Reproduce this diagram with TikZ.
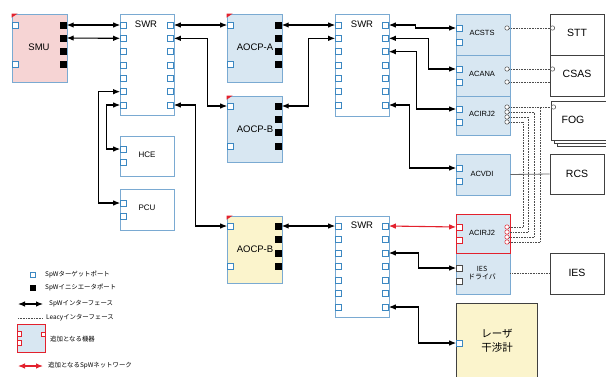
\documentclass[tikz,border=0pt]{standalone}
\usepackage{fontspec}
\setmainfont{Liberation Sans}
\newfontfamily\jp{Noto Sans CJK JP}
\usetikzlibrary{arrows.meta,fit}
\definecolor{bblue}{HTML}{7AAAD2}
\definecolor{pblue}{HTML}{3C88C2}
\definecolor{lblue}{HTML}{D8E7F2}
\definecolor{pinkf}{HTML}{F6D4D4}
\definecolor{yelf}{HTML}{FBF4CC}
\definecolor{redc}{HTML}{E3212D}
\tikzset{
 box/.style={draw=bblue, line width=0.8pt, inner sep=0pt},
 obox/.style={draw=black!75, line width=0.7pt, fill=white, inner sep=0pt},
 port/.style={draw=pblue, fill=white, line width=0.6pt, rectangle, minimum size=6pt, inner sep=0pt},
 iport/.style={draw=black, fill=black, rectangle, minimum size=6pt, inner sep=0pt},
 rport/.style={port, draw=redc},
 dport/.style={port, draw=black!70},
 lcirc/.style={circle, draw=black!70, fill=white, line width=0.5pt, minimum size=4.4pt, inner sep=0pt},
 rcirc/.style={lcirc, draw=redc},
 spw/.style={line width=1.1pt, {Latex[length=7pt,width=5.5pt]}-{Latex[length=7pt,width=5.5pt]}},
 rspw/.style={spw, draw=redc},
 legacy/.style={densely dotted, line width=0.6pt, black!70},
 lbl/.style={font=\fontsize{9.5}{10}\selectfont, inner sep=0pt},
 slbl/.style={font=\fontsize{7.5}{8.5}\selectfont, inner sep=0pt},
 blbl/.style={font=\fontsize{10.5}{12}\selectfont, inner sep=0pt},
 legtext/.style={font=\jp\fontsize{6.4}{7}\selectfont, anchor=west, inner sep=0pt},
 redcorner/.style={fill=redc}
}
\begin{document}
\begin{tikzpicture}[x=1pt,y=-1pt]
\path[use as bounding box] (0,0) rectangle (606,376);
\clip (0,0) rectangle (606,376);
% boxes
\node[box, fill=pinkf, fit={(12,14)(67,82)}] (smu) {};
\node[box, fill=white, fit={(120,14)(174,115)}] (swra) {};
\node[box, fill=lblue, fit={(227,14)(282,82)}] (aocpa) {};
\node[box, fill=lblue, fit={(227,96)(282,162)}] (aocpb) {};
\node[box, fill=white, fit={(335,14)(389,116)}] (swrb) {};
\node[box, fill=yelf, fit={(227,216)(282,283)}] (aocpc) {};
\node[box, fill=white, fit={(335,216)(389,317)}] (swrc) {};
\node[box, fill=white, fit={(120,136)(174,176)}] (hce) {};
\node[box, fill=white, fit={(120,189)(174,230)}] (pcu) {};
\node[box, fill=lblue, fit={(456,14)(510,55)}] (acsts) {};
\node[box, fill=lblue, fit={(456,55)(510,96)}] (acana) {};
\node[box, fill=lblue, fit={(456,96)(510,135)}] (acirja) {};
\node[box, fill=lblue, fit={(456,154)(510,195)}] (acvdi) {};
\node[box, fill=lblue, fit={(456,253)(510,294)}] (iesd) {};
\node[box, draw=redc, fill=lblue, fit={(456,214)(510,253)}] (acirjb) {};
\node[obox, fill=yelf, fit={(456,303)(537,380)}] (laser) {};
\node[obox, fit={(550,14)(604,55)}] (stt) {};
\node[obox, fit={(550,55)(604,96)}] (csas) {};
\node[obox, fit={(557,107)(612,146)}] (fogc3) {};
\node[obox, fit={(554,104)(609,143)}] (fogc2) {};
\node[obox, fit={(551,101)(606,140)}] (fog) {};
\node[obox, fit={(550,154)(604,194)}] (rcs) {};
\node[obox, fit={(550,253)(604,294)}] (ies) {};
% red corners
\foreach \b in {smu,aocpa,aocpb,aocpc}
  \fill[redcorner] (\b.north west) -- ++(6,0) -- ++(-6,4) -- cycle;
% ports
\node[port] (smuL1) at (15.5,25) {};
\node[port] (smuL2) at (15.5,64) {};
\foreach \i/\y in {1/25,2/38,3/51,4/64} \node[iport] (smuR\i) at (63.5,\y) {};
\foreach \i in {1,...,7} {
  \pgfmathsetmacro\yy{25+13.333*(\i-1)}
  \node[port] (swraL\i) at (123.5,\yy) {};
  \node[port] (swraR\i) at (170.5,\yy) {};
  \node[port] (swrbL\i) at (338.5,\yy) {};
  \node[port] (swrbR\i) at (385.5,\yy) {};
  \pgfmathsetmacro\yz{226+13.5*(\i-1)}
  \node[port] (swrcL\i) at (338.5,\yz) {};
  \node[port] (swrcR\i) at (385.5,\yz) {};
}
\node[port] (aocpaL1) at (230.5,25) {};
\node[port] (aocpaL2) at (230.5,64) {};
\foreach \i/\y in {1/25,2/38,3/51,4/64} \node[iport] (aocpaR\i) at (278.5,\y) {};
\node[port] (aocpbL1) at (230.5,106) {};
\node[port] (aocpbL2) at (230.5,146) {};
\foreach \i/\y in {1/106,2/119,3/132,4/146} \node[iport] (aocpbR\i) at (278.5,\y) {};
\node[port] (aocpcL1) at (230.5,226) {};
\node[port] (aocpcL2) at (230.5,266) {};
\foreach \i/\y in {1/226,2/239.5,3/253,4/266} \node[iport] (aocpcR\i) at (278.5,\y) {};
\node[port] (hceL1) at (123.5,149) {};
\node[port] (hceL2) at (123.5,162) {};
\node[port] (pcuL1) at (123.5,203) {};
\node[port] (pcuL2) at (123.5,216) {};
\node[port] (acstsL1) at (459.5,28) {};
\node[port] (acstsL2) at (459.5,42) {};
\node[port] (acanaL1) at (459.5,69) {};
\node[port] (acanaL2) at (459.5,82) {};
\node[port] (acirjaL1) at (459.5,109) {};
\node[port] (acirjaL2) at (459.5,122) {};
\node[port] (acvdiL1) at (459.5,168) {};
\node[port] (acvdiL2) at (459.5,181) {};
\node[rport] (acirjbL1) at (459.5,227) {};
\node[rport] (acirjbL2) at (459.5,240) {};
\node[dport] (iesdL1) at (459.5,268) {};
\node[dport] (iesdL2) at (459.5,281) {};
\node[port] (laserL1) at (459.5,343) {};
% legacy circles
\node[lcirc] (acstsC) at (507,28) {};
\node[lcirc] (acanaC1) at (507,69) {};
\node[lcirc] (acanaC2) at (507,82) {};
\foreach \i/\y in {1/107,2/112,3/117,4/122} \node[lcirc] (acirjaC\i) at (507,\y) {};
\foreach \i/\y in {1/227,2/232,3/237,4/242} \node[rcirc] (acirjbC\i) at (507,\y) {};
\node[lcirc] (sttC) at (552.5,28) {};
\node[lcirc] (csasC) at (552.5,69) {};
\node[lcirc] (fogC) at (553.5,107) {};
% SpW connectors
\draw[spw] (smuR1.east) -- (swraL1.west);
\draw[spw] (smuR2.east) -- (swraL2.west);
\draw[spw] (swraR1.east) -- (aocpaL1.west);
\draw[spw] (swraR2.east) -- ++(34,0) |- (aocpbL1.west);
\draw[spw] (swraR7.east) -- ++(22,0) |- (aocpcL1.west);
\draw[spw] (swraL6.west) -- ++(-22,0) |- (pcuL1.west);
\draw[spw] (swraL7.west) -- ++(-14,0) |- (hceL1.west);
\draw[spw] (aocpaR1.east) -- (swrbL1.west);
\draw[spw] (aocpbR1.east) -- ++(27,0) |- (swrbL2.west);
\draw[spw] (swrbR1.east) -- ++(27,0) |- (acstsL1.west);
\draw[spw] (swrbR2.east) -- ++(40,0) |- (acanaL1.west);
\draw[spw] (swrbR3.east) -- ++(28,0) |- (acirjaL1.west);
\draw[spw] (swrbR7.east) -- ++(21,0) |- (acvdiL1.west);
\draw[spw] (aocpcR1.east) -- (swrcL1.west);
\draw[rspw] (swrcR1.east) -- (acirjbL1.west);
\draw[spw] (swrcR3.east) -- ++(30,0) |- (iesdL1.west);
\draw[spw] (swrcR7.east) -- ++(30,0) |- (laserL1.west);
% legacy connectors
\draw[legacy] (acstsC.east) -- (sttC.west);
\draw[legacy] (acanaC1.east) -- (csasC.west);
\draw[legacy] (acanaC2.east) -- (acanaC2 -| csas.west);
\draw[legacy] (acirjaC1.east) -- (fogC.west);
\draw[legacy] (acirjaC4.east) -- ++(14,0) |- (acirjbC1.east);
\draw[legacy] (acirjaC3.east) -- ++(19,0) |- (acirjbC2.east);
\draw[legacy] (acirjaC2.east) -- ++(25,0) |- (acirjbC3.east);
\draw[legacy] (acirjaC1.east) -- ++(31,0) |- (acirjbC4.east);
\draw[line width=0.8pt, black!60] (acvdi.east) -- (rcs.west);
\draw[legacy] (iesd.east) -- (ies.west);
% labels
\node[lbl] (smuT) at (39,47) {SMU};
\node[lbl] (swraT) at (146,24) {SWR};
\node[lbl] (swrbT) at (362,24) {SWR};
\node[lbl] (swrcT) at (362,225) {SWR};
\node[lbl] (aocpaT) at (255,47) {AOCP-A};
\node[lbl] (aocpbT) at (255,129) {AOCP-B};
\node[lbl] (aocpcT) at (255,249) {AOCP-B};
\node[slbl, font=\fontsize{8}{9}\selectfont] (hceT) at (147,155) {HCE};
\node[slbl, font=\fontsize{8}{9}\selectfont] (pcuT) at (147,208) {PCU};
\node[slbl] (acstsT) at (482,33) {ACSTS};
\node[slbl] (acanaT) at (482,74) {ACANA};
\node[slbl] (acirjaT) at (482,114) {ACIRJ2};
\node[slbl] (acvdiT) at (482,174) {ACVDI};
\node[slbl] (acirjbT) at (482,233) {ACIRJ2};
\node[slbl, align=center, font=\jp\fontsize{7}{8.5}\selectfont] (iesdT) at (482,273) {IES\\ドライバ};
\node[align=center, font=\jp\fontsize{10.5}{13.5}\selectfont, inner sep=0pt] (laserT) at (497,341) {レーザ\\干渉計};
\node[blbl] (sttT) at (577,33) {STT};
\node[blbl] (csasT) at (577,74) {CSAS};
\node[blbl] (fogT) at (573,120) {FOG};
\node[blbl] (rcsT) at (577,174) {RCS};
\node[blbl] (iesT) at (577,273) {IES};
% legend
\node[port, minimum size=5pt] (lp1) at (33,275) {};
\node[iport, minimum size=5pt] (lp2) at (33,288) {};
\coordinate (la1) at (18,304); \coordinate (la2) at (43,304);
\draw[spw] (la1) -- (la2);
\coordinate (ld1) at (18,318); \coordinate (ld2) at (43,318);
\draw[legacy] (ld1) -- (ld2);
\node[draw=redc, line width=0.8pt, fill=lblue, inner sep=0pt, fit={(17,324)(45,352)}] (legbox) {};
\node[rport, minimum size=4.5pt] (lbp1) at (19.5,334) {};
\node[rport, minimum size=4.5pt] (lbp2) at (19.5,343) {};
\node[rport, minimum size=4pt] (lbp3) at (43,334) {};
\coordinate (lr1) at (18,366); \coordinate (lr2) at (43,366);
\draw[rspw] (lr1) -- (lr2);
\node[legtext] (lt1) at (45,275) {SpWターゲットポート};
\node[legtext] (lt2) at (45,288) {SpWイニシエータポート};
\node[legtext] (lt3) at (49,304) {SpWインターフェース};
\node[legtext] (lt4) at (46,318) {Leacyインターフェース};
\node[legtext] (lt5) at (50,339) {追加となる機器};
\node[legtext] (lt6) at (48,366) {追加となるSpWネットワーク};
\end{tikzpicture}
\end{document}
